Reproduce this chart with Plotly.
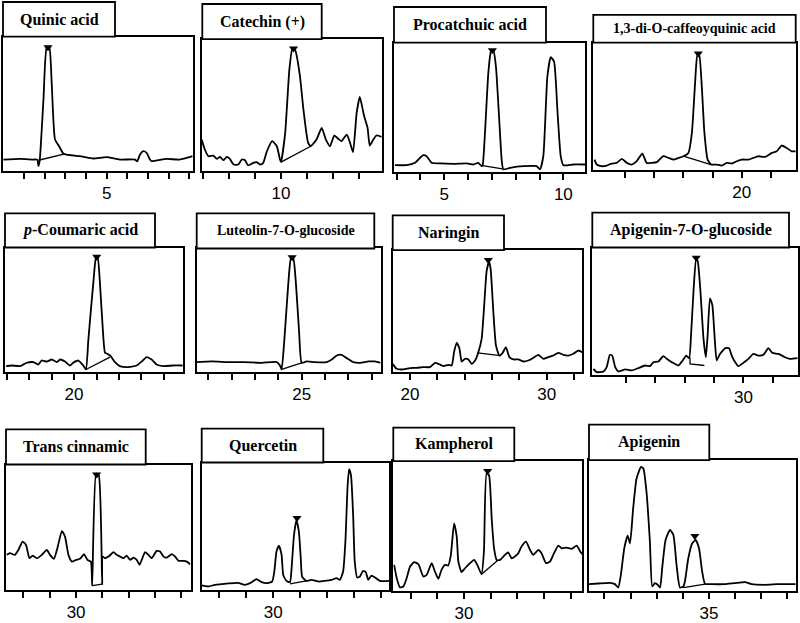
import plotly.graph_objects as go

W, H = 800, 623

# ---------------- DATA (retention time in min, relative signal 0-100) ----------------
titles = ["Quinic acid", "Catechin (+)", "Procatchuic acid", "1,3-di-O-caffeoyquinic acid",
          "<i>p</i>-Coumaric acid", "Luteolin-7-O-glucoside", "Naringin", "Apigenin-7-O-glucoside",
          "Trans cinnamic", "Quercetin", "Kampherol", "Apigenin"]

quinic_x = [2.50, 2.90, 3.23, 3.32, 3.35, 3.38, 3.47, 3.55, 3.61, 3.67, 3.75, 3.85, 3.95, 4.03, 4.35, 4.68,
            5.00, 5.32, 5.69, 5.74, 5.81, 5.89, 5.97, 6.05, 6.09, 6.45, 6.77, 7.08]
quinic_y = [8.6, 9.1, 8.6, 8.6, 3.7, 8.1, 53.1, 92.6, 92.6, 65.4, 23.5, 18.5, 13.1, 12.3, 11.1, 9.4,
            10.4, 8.6, 8.6, 7.2, 12.3, 14.8, 13.6, 8.6, 7.4, 9.1, 8.6, 11.1]

catechin_x = [8.48, 8.54, 8.61, 8.70, 8.77, 8.83, 8.90, 8.96, 9.02, 9.09, 9.18, 9.25, 9.31, 9.37, 9.47, 9.53,
              9.60, 9.66, 9.73, 9.83, 9.92, 9.98, 10.00, 10.08, 10.16, 10.22, 10.27, 10.36, 10.43, 10.52,
              10.57, 10.68, 10.78, 10.86, 10.94, 11.02, 11.10, 11.16, 11.26, 11.32, 11.38, 11.45, 11.51,
              11.58, 11.61, 11.66, 11.70, 11.77, 11.83, 11.93]
catechin_y = [23.9, 16.4, 11.3, 11.8, 9.3, 10.8, 8.3, 10.8, 9.3, 5.0, 5.0, 8.8, 8.3, 4.3, 6.3, 6.8,
              5.0, 6.3, 15.1, 22.7, 18.9, 8.8, 6.8, 29.0, 76.8, 93.2, 91.9, 73.0, 46.6, 21.4,
              18.9, 23.9, 32.7, 23.9, 18.9, 27.0, 24.4, 22.7, 27.7, 21.9, 14.4, 44.1, 56.2,
              44.1, 39.5, 32.7, 19.4, 23.9, 27.0, 25.9]

procat_x = [2.93, 3.42, 3.77, 3.98, 4.12, 4.26, 4.47, 4.82, 5.38, 5.94, 6.22, 6.43, 6.57, 6.61, 6.71, 6.85,
            6.96, 7.06, 7.17, 7.30, 7.41, 7.48, 7.76, 8.32, 8.88, 9.02, 9.16, 9.33, 9.47, 9.61, 9.75,
            9.89, 10.00, 10.42, 10.91]
procat_y = [5.4, 5.4, 7.2, 11.0, 13.1, 12.3, 7.2, 6.7, 6.4, 6.7, 5.9, 7.2, 4.6, 5.1, 30.3, 76.4,
            93.1, 94.4, 81.5, 43.1, 9.7, 2.1, 3.3, 4.6, 4.6, 2.1, 12.3, 73.8, 88.7, 85.4, 48.2,
            12.3, 5.4, 5.9, 5.9]

dicaf_x = [14.95, 15.03, 15.20, 15.37, 15.54, 15.71, 15.89, 16.06, 16.23, 16.40, 16.59, 16.74, 16.91, 17.09,
           17.31, 17.49, 17.66, 17.83, 18.00, 18.17, 18.29, 18.40, 18.48, 18.54, 18.63, 18.72, 18.83,
           18.95, 19.14, 19.31, 19.49, 19.66, 19.83, 20.00, 20.23, 20.40, 20.57, 20.80, 21.03, 21.20,
           21.37, 21.54, 21.71, 21.85]
dicaf_y = [8.3, 4.4, 3.1, 3.6, 5.2, 5.7, 8.9, 5.7, 4.4, 7.0, 13.0, 5.7, 5.7, 6.3,
           10.9, 9.6, 8.3, 9.6, 10.9, 13.5, 29.2, 68.2, 90.4, 90.4, 65.6, 29.2, 8.3,
           4.4, 4.4, 3.6, 5.7, 5.2, 7.0, 8.3, 8.3, 9.6, 10.9, 10.4, 13.5, 14.8,
           19.3, 17.4, 14.8, 14.8]

coumaric_x = [16.98, 17.23, 17.60, 17.90, 18.19, 18.41, 18.56, 18.79, 19.01, 19.23, 19.38, 19.60, 19.82,
              20.00, 20.19, 20.41, 20.53, 20.64, 20.86, 20.98, 21.05, 21.16, 21.27, 21.38, 21.48, 21.63,
              21.82, 22.04, 22.34, 22.79, 23.01, 23.23, 23.45, 23.67, 23.97, 24.41, 24.83]
coumaric_y = [4.8, 5.3, 4.8, 7.5, 8.0, 6.1, 9.3, 8.5, 10.1, 8.0, 10.1, 8.5, 5.3,
              8.0, 9.3, 5.3, 2.1, 26.7, 72.0, 92.0, 92.0, 69.3, 37.3, 15.5, 14.7, 12.8,
              8.0, 4.8, 4.0, 5.3, 8.5, 12.0, 10.1, 6.1, 4.8, 5.3, 5.3]

luteolin_x = [20.50, 21.14, 21.86, 22.57, 23.29, 23.93, 24.07, 24.14, 24.26, 24.43, 24.54, 24.64, 24.76,
              24.89, 25.00, 25.21, 25.57, 26.07, 26.29, 26.50, 26.71, 26.93, 27.21, 27.50, 27.86, 28.14, 28.37]
luteolin_y = [8.1, 8.6, 8.1, 8.1, 7.5, 8.1, 5.4, 2.2, 26.9, 72.6, 91.9, 91.9, 69.9,
              32.3, 7.5, 8.6, 8.1, 8.1, 10.2, 13.4, 14.0, 11.3, 8.1, 7.5, 8.6, 8.6, 7.5]

naringin_x = [18.73, 19.02, 19.51, 20.00, 20.49, 20.98, 21.46, 21.83, 22.07, 22.44, 22.80, 23.05, 23.22,
              23.41, 23.61, 23.78, 24.02, 24.27, 24.51, 24.76, 25.00, 25.24, 25.41, 25.61, 25.78, 25.90,
              26.10, 26.29, 26.54, 26.78, 27.02, 27.27, 27.56, 27.93, 28.29, 28.66, 28.98, 29.39, 29.76,
              30.12, 30.49, 30.85, 31.22, 31.59, 31.95, 32.32, 32.61]
naringin_y = [6.8, 2.7, 2.2, 3.3, 3.5, 4.1, 4.1, 7.6, 6.8, 4.9, 6.0, 5.4, 16.3,
              24.0, 19.6, 8.7, 10.9, 10.4, 6.8, 9.5, 16.3, 27.2, 51.8, 83.1, 90.5, 84.5,
              49.0, 21.8, 13.6, 15.8, 20.4, 12.3, 10.4, 10.4, 8.7, 9.5, 11.4, 14.2, 10.9,
              12.3, 13.6, 15.8, 14.2, 13.6, 15.0, 17.7, 16.3]

apig7_x = [24.89, 25.00, 25.23, 25.34, 25.45, 25.53, 25.63, 25.74, 25.97, 26.19, 26.42, 26.65, 26.82, 26.93,
           27.10, 27.27, 27.42, 27.56, 27.78, 27.93, 28.05, 28.15, 28.22, 28.31, 28.39, 28.44, 28.53,
           28.64, 28.72, 28.78, 28.86, 28.94, 29.03, 29.09, 29.20, 29.38, 29.51, 29.60, 29.72, 29.83,
           30.00, 30.17, 30.34, 30.51, 30.68, 30.85, 30.99, 31.19, 31.42, 31.59, 31.85]
apig7_y = [4.7, 2.1, 2.6, 6.0, 15.7, 15.1, 6.0, 2.6, 4.2, 3.4, 5.2, 7.3, 6.8, 9.9,
           10.4, 14.6, 12.0, 9.9, 7.3, 11.2, 15.1, 13.1, 33.4, 70.0, 90.9, 89.6, 67.4,
           28.2, 13.8, 30.8, 60.1, 54.8, 25.6, 11.2, 16.4, 20.9, 20.9, 15.1, 9.9, 6.8,
           9.4, 12.5, 16.4, 15.1, 15.7, 20.9, 17.2, 16.4, 13.8, 12.5, 13.1]

cinn_x = [27.37, 27.49, 27.68, 27.81, 27.97, 28.10, 28.23, 28.35, 28.51, 28.70, 28.89, 29.01, 29.16, 29.29,
          29.46, 29.58, 29.71, 29.84, 30.00, 30.15, 30.30, 30.43, 30.56, 30.61, 30.76, 30.86, 30.99,
          31.01, 31.10, 31.23, 31.42, 31.54, 31.67, 31.80, 31.92, 32.05, 32.18, 32.30, 32.41, 32.49,
          32.62, 32.75, 32.87, 33.06, 33.19, 33.32, 33.44, 33.63, 33.76, 33.89, 34.08, 34.20, 34.33]
cinn_y = [27.9, 29.2, 27.9, 31.8, 38.5, 35.8, 25.2, 27.3, 25.2, 27.9, 31.8, 27.9, 24.7, 33.2,
          46.9, 42.4, 27.9, 22.5, 23.9, 24.7, 28.4, 23.9, 22.5, 3.4, 92.8, 91.5, 4.5,
          26.5, 25.2, 26.5, 30.0, 27.9, 26.5, 25.2, 27.3, 23.9, 25.7, 23.9, 19.9, 23.9,
          30.0, 27.9, 25.2, 31.0, 30.5, 26.5, 25.7, 28.4, 26.5, 23.1, 23.1, 22.5, 20.4]

querc_x = [27.35, 27.59, 27.84, 28.09, 28.33, 28.70, 28.95, 29.14, 29.38, 29.57, 29.75, 29.96, 30.04, 30.12,
           30.21, 30.31, 30.37, 30.49, 30.62, 30.68, 30.77, 30.86, 30.95, 31.02, 31.07, 31.23, 31.42,
           31.67, 31.91, 32.16, 32.35, 32.47, 32.59, 32.68, 32.75, 32.81, 32.88, 32.96, 33.02, 33.11,
           33.21, 33.33, 33.43, 33.52, 33.64, 33.77, 33.95, 34.30]
querc_y = [3.4, 2.6, 3.9, 4.4, 5.0, 5.5, 3.9, 5.2, 8.4, 6.0, 5.2, 6.5, 14.4, 30.0,
           34.7, 27.4, 11.7, 7.0, 6.0, 17.0, 43.1, 54.8, 45.7, 24.8, 10.4, 7.0, 7.8,
           6.5, 7.0, 7.8, 9.1, 7.8, 14.4, 40.5, 79.6, 94.8, 90.1, 58.7, 22.2, 9.7,
           10.4, 14.9, 13.8, 7.8, 11.2, 9.7, 7.0, 7.0]

kamph_x = [27.38, 27.48, 27.60, 27.73, 27.85, 27.98, 28.13, 28.29, 28.48, 28.60, 28.79, 28.91, 29.04, 29.16,
           29.29, 29.41, 29.51, 29.63, 29.73, 29.79, 29.91, 30.04, 30.23, 30.38, 30.50, 30.66, 30.75,
           30.85, 30.94, 31.04, 31.13, 31.23, 31.35, 31.54, 31.66, 31.79, 31.91, 32.04, 32.16, 32.33,
           32.48, 32.60, 32.79, 32.91, 33.08, 33.23, 33.35, 33.54, 33.66, 33.85, 34.04, 34.23, 34.35, 34.44]
kamph_y = [20.0, 9.7, 2.6, 3.3, 9.7, 18.7, 22.1, 20.5, 11.0, 12.3, 21.3, 14.9, 9.2, 16.2,
           20.0, 19.5, 27.7, 52.1, 41.8, 22.6, 14.4, 17.4, 21.3, 23.8, 20.0, 12.8, 30.3,
           90.5, 89.2, 55.9, 32.8, 23.8, 23.8, 27.7, 29.7, 25.1, 26.4, 29.0, 34.1, 37.9,
           31.5, 27.7, 31.5, 29.0, 21.3, 22.6, 27.7, 34.9, 32.8, 33.3, 32.3, 34.9, 30.8, 28.2]

apigenin_x = [30.41, 30.77, 31.21, 31.40, 31.53, 31.63, 31.76, 31.89, 31.98, 32.10, 32.23, 32.40, 32.49,
              32.61, 32.74, 32.83, 32.93, 33.04, 33.13, 33.21, 33.34, 33.51, 33.64, 33.76, 33.89, 34.02,
              34.08, 34.21, 34.36, 34.49, 34.62, 34.74, 34.85, 35.10, 35.61, 35.99, 36.38, 36.63, 37.14,
              37.65, 38.32]
apigenin_y = [5.1, 5.6, 6.1, 5.1, 2.5, 12.2, 32.6, 42.2, 36.4, 63.1, 86.0, 94.9, 93.6,
              75.8, 37.7, 3.3, 5.9, 4.6, 2.5, 17.3, 38.9, 46.6, 42.7, 19.8, 2.5, 3.3,
              7.1, 24.9, 36.4, 38.9, 32.6, 14.8, 5.3, 5.1, 5.1, 5.9, 6.6, 5.1, 4.6,
              5.1, 5.1]

curves_x = [quinic_x, catechin_x, procat_x, dicaf_x, coumaric_x, luteolin_x, naringin_x, apig7_x,
            cinn_x, querc_x, kamph_x, apigenin_x]
curves_y = [quinic_y, catechin_y, procat_y, dicaf_y, coumaric_y, luteolin_y, naringin_y, apig7_y,
            cinn_y, querc_y, kamph_y, apigenin_y]

# integration baselines (start, end) and identified peak apex
base_x = [[3.35, 3.99], [10.00, 10.57], [6.61, 7.44], [18.00, 18.94], [20.53, 21.60], [24.14, 25.00],
          [24.93, 26.63], [28.18, 28.18, 28.67], [30.61, 30.99], [30.62, 31.23], [30.66, 31.25], [34.02, 34.85]]
base_y = [[8.1, 12.8], [6.8, 18.9], [5.1, 2.5], [10.9, 4.4], [2.1, 12.0], [2.2, 7.5],
          [15.8, 13.6], [13.5, 8.6, 7.3], [3.4, 4.5], [4.7, 7.0], [12.8, 23.1], [2.5, 5.1]]
apex_x = [3.58, 10.24, 7.02, 18.51, 21.01, 24.59, 25.73, 28.39, 30.78, 30.88, 30.89, 34.46]
apex_y = [92.0, 93.0, 94.0, 91.5, 92.5, 93.0, 92.0, 92.0, 92.0, 56.5, 92.5, 42.0]

tick_vals = [[3, 3.5, 4, 4.5, 5, 5.5, 6, 6.5, 7], [8.5, 9, 9.5, 10, 10.5, 11, 11.5], list(range(3, 11)),
             list(range(16, 22)), list(range(17, 25)), list(range(21, 29)), list(range(20, 33, 2)),
             list(range(26, 32)), list(range(28, 35)), list(range(28, 35)), list(range(28, 35)),
             list(range(31, 39))]
tick_labelled = [[5], [10], [5, 10], [20], [20], [25], [20, 30], [30], [30], [30], [30], [35]]

# ---------------- LAYOUT (pixels) ----------------
x_ranges = [[2.49, 7.10], [8.48, 11.93], [2.89, 10.91], [14.91, 21.85], [16.93, 24.86], [20.5, 28.4],
            [18.73, 32.61], [24.85, 31.85], [27.34, 34.35], [27.35, 34.30], [27.35, 34.44], [30.41, 38.32]]
panel_px = [(3, 193.3, 36.7, 171.7), (201.7, 381.7, 39.3, 171.7), (394, 585, 42.7, 172.7), (593.3, 795.7, 42.7, 170.7),
            (5, 183.3, 248.3, 373.3), (196.7, 381, 249.3, 373.3), (392.7, 582.3, 251, 373.3), (592.3, 797.7, 248.3, 376),
            (6, 190.7, 466, 591.7), (201.7, 389.3, 464, 591.7), (393.3, 582.3, 462.7, 592.7), (589, 795.7, 461.7, 592.7)]
title_px = [(3, 115, 2, 36.7), (202.3, 321.7, 4, 39.3), (394, 546, 7, 42.7), (593.3, 795.7, 15, 42.7),
            (5, 155, 214, 248.3), (196.7, 374.3, 214, 249.3), (392.7, 504, 216, 251), (592.3, 789, 213.3, 248.3),
            (6, 145.7, 430.7, 466), (201.7, 323.3, 430, 464), (393.3, 514.3, 429, 462.7), (589, 709.3, 426, 461.7)]
title_size = [16, 16, 16, 14, 16, 14, 16, 16, 16, 16, 16, 16]

fig = go.Figure()
layout = dict(width=W, height=H, margin=dict(l=0, r=0, t=0, b=0), paper_bgcolor="white",
              plot_bgcolor="white", showlegend=False, shapes=[], annotations=[])

for i in range(12):
    n = i + 1
    xa = "x" if n == 1 else f"x{n}"
    ya = "y" if n == 1 else f"y{n}"
    fig.add_trace(go.Scatter(x=curves_x[i], y=curves_y[i], mode="lines", xaxis=xa, yaxis=ya,
                             line=dict(color="black", width=1.8, shape="spline", smoothing=0.5),
                             hoverinfo="skip"))
    fig.add_trace(go.Scatter(x=base_x[i], y=base_y[i], mode="lines", xaxis=xa, yaxis=ya,
                             line=dict(color="black", width=1.3), hoverinfo="skip"))
    fig.add_trace(go.Scatter(x=[apex_x[i]], y=[apex_y[i]], mode="markers", xaxis=xa, yaxis=ya,
                             marker=dict(symbol="triangle-down", size=8, color="black"),
                             cliponaxis=False, hoverinfo="skip"))
    x0, x1, y0, y1 = panel_px[i]
    tt = [(str(int(v)) if v in tick_labelled[i] else "") for v in tick_vals[i]]
    layout["xaxis" if n == 1 else f"xaxis{n}"] = dict(
        domain=[x0 / W, x1 / W], range=x_ranges[i], anchor=ya, tickvals=tick_vals[i], ticktext=tt,
        ticks="outside", ticklen=6, tickwidth=1.5, tickcolor="black", showline=True, linecolor="black",
        linewidth=1.5, mirror=True, showgrid=False, zeroline=False,
        tickfont=dict(family="Liberation Sans, Arial, sans-serif", size=17, color="black"))
    layout["yaxis" if n == 1 else f"yaxis{n}"] = dict(
        domain=[1 - y1 / H, 1 - y0 / H], range=[0, 100], anchor=xa, showline=True, linecolor="black",
        linewidth=1.5, mirror=True, showticklabels=False, ticks="", showgrid=False, zeroline=False)
    tx0, tx1, ty0, ty1 = title_px[i]
    layout["shapes"].append(dict(type="rect", xref="paper", yref="paper", x0=tx0 / W, x1=tx1 / W,
                                 y0=1 - ty1 / H, y1=1 - ty0 / H, fillcolor="white",
                                 line=dict(color="black", width=1.8), layer="above"))
    layout["annotations"].append(dict(xref="paper", yref="paper", x=(tx0 + tx1) / 2 / W,
                                      y=1 - (ty0 + ty1) / 2 / H, text="<b>" + titles[i] + "</b>",
                                      showarrow=False, xanchor="center", yanchor="middle",
                                      font=dict(family="Liberation Serif, Times New Roman, serif",
                                                size=title_size[i], color="black")))

fig.update_layout(**layout)
fig.write_html("out.html", config={"displayModeBar": False},
               post_script="document.body.style.margin='0';document.body.style.overflow='hidden';")
